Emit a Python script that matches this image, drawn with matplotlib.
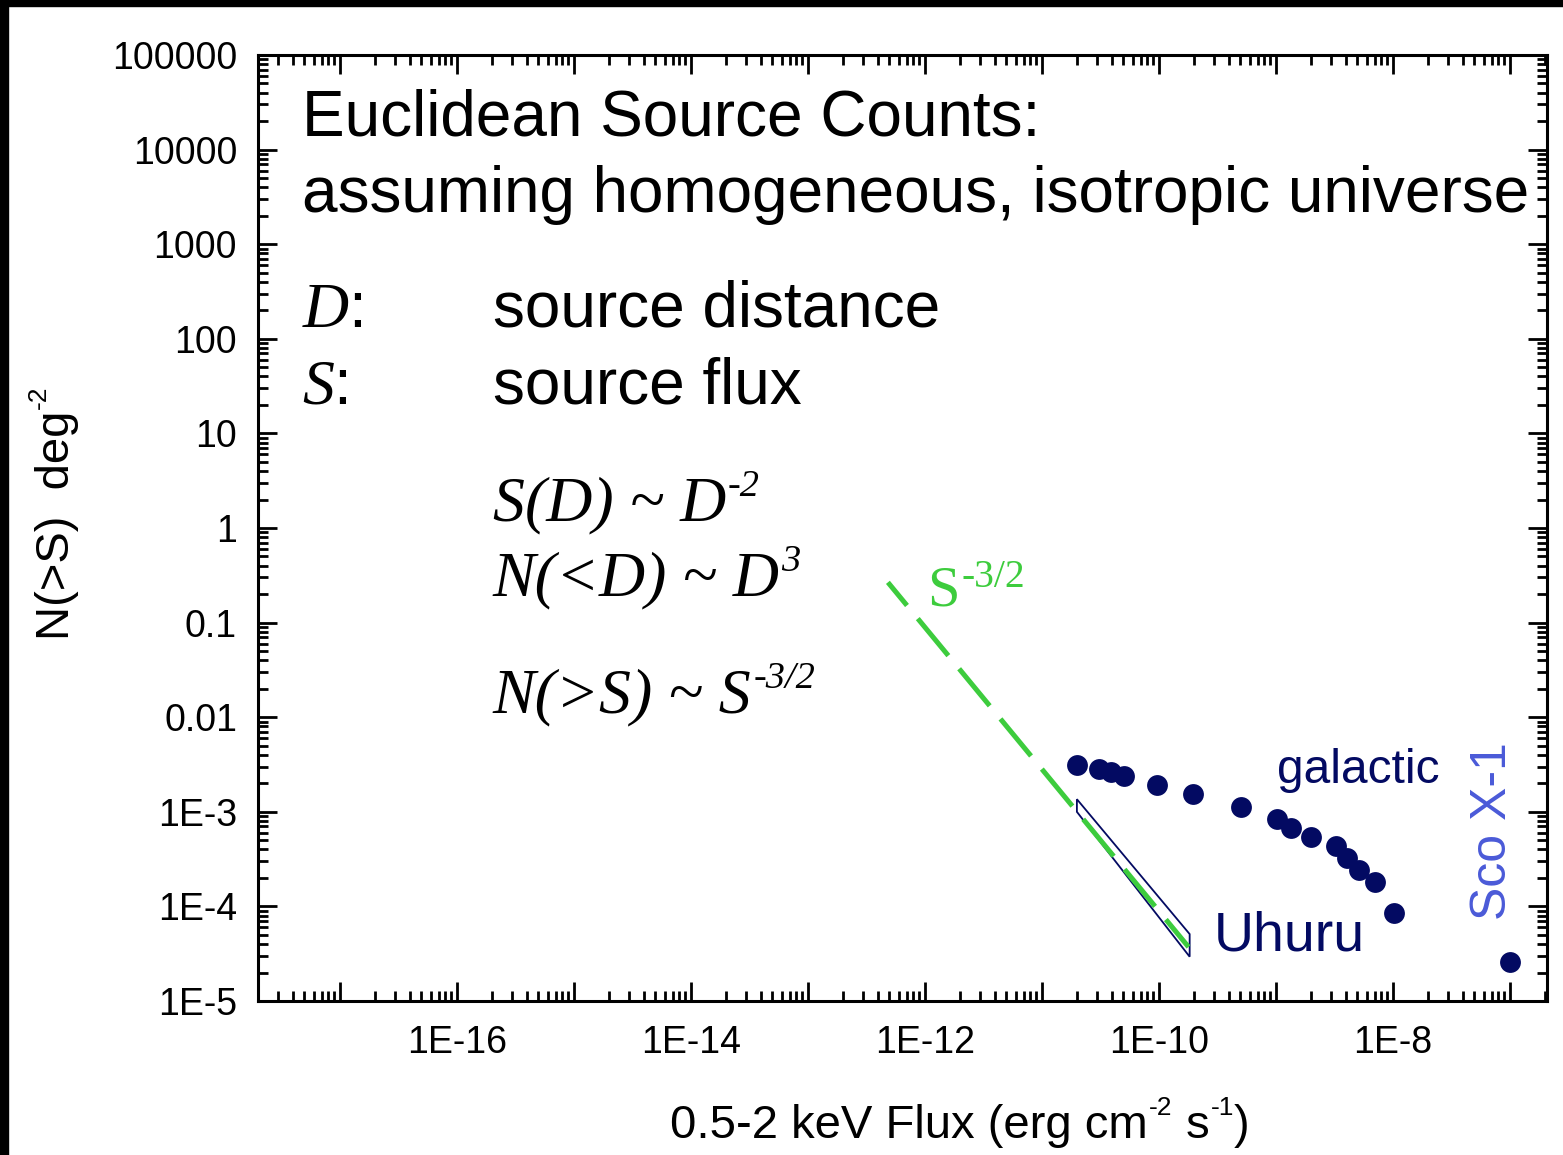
"""Euclidean source counts, log N - log S sketch (Uhuru era)."""
import matplotlib
import matplotlib.pyplot as plt
import matplotlib.ticker as ticker
from matplotlib.patches import Rectangle

matplotlib.use("Agg")

plt.rcParams["font.family"] = ["Liberation Sans", "DejaVu Sans"]
plt.rcParams["mathtext.fontset"] = "custom"
plt.rcParams["mathtext.rm"] = "Liberation Serif"
plt.rcParams["mathtext.it"] = "Liberation Serif:italic"
plt.rcParams["mathtext.sf"] = "Liberation Sans"

# galactic sources (flux in erg cm^-2 s^-1, N(>S) in deg^-2)
galactic_flux = [2e-11, 3.1e-11, 3.9e-11, 5.1e-11, 9.6e-11, 1.95e-10, 5.1e-10,
                 1.03e-9, 1.36e-9, 2.0e-9, 3.27e-9, 4.1e-9, 5.2e-9, 7.1e-9, 1.02e-8]
galactic_n = [3.1e-3, 2.81e-3, 2.62e-3, 2.41e-3, 1.94e-3, 1.54e-3, 1.13e-3,
              8.3e-4, 6.8e-4, 5.4e-4, 4.35e-4, 3.25e-4, 2.42e-4, 1.80e-4, 8.6e-5]
sco_flux = [1e-7]
sco_n = [2.58e-5]

# Uhuru extragalactic band
uhuru_flux = [2.0e-11, 1.84e-10]
uhuru_upper = [1.36e-3, 5.1e-5]
uhuru_lower = [1.0e-3, 2.94e-5]

# euclidean S^-3/2 reference line
euclid_flux = [4.85e-13, 1.8e-10]
euclid_norm = 9.0e-5  # N at S = 1e-10
euclid_n = [euclid_norm * (s / 1e-10) ** -1.5 for s in euclid_flux]

y_ticks = [1e5, 1e4, 1e3, 1e2, 1e1, 1, 0.1, 0.01, 1e-3, 1e-4, 1e-5]
y_tick_labels = ["100000", "10000", "1000", "100", "10", "1", "0.1", "0.01",
                 "1E-3", "1E-4", "1E-5"]
x_ticks = [1e-16, 1e-14, 1e-12, 1e-10, 1e-8]
x_tick_labels = ["1E-16", "1E-14", "1E-12", "1E-10", "1E-8"]

NAVY = "#030a62"
GREEN = "#3dcc3d"
SCO = "#4a5ad8"

fig = plt.figure(figsize=(15.63, 11.55), dpi=100)
fig.patch.set_facecolor("white")
ax = fig.add_axes([0.165, 0.1333, 0.8250, 0.8191])

ax.set_xscale("log")
ax.set_yscale("log")
ax.set_xlim(2e-18, 2.1e-7)
ax.set_ylim(1e-5, 1e5)

ax.fill(uhuru_flux + uhuru_flux[::-1], uhuru_upper + uhuru_lower[::-1],
        facecolor="none", edgecolor=NAVY, linewidth=1.3, zorder=2)
ax.plot(euclid_flux, euclid_n, color=GREEN, linewidth=3.6,
        linestyle=(3.6, (9.6, 3.4)), zorder=3)
ax.plot(galactic_flux, galactic_n, "o", color=NAVY, markersize=15,
        markeredgewidth=0, zorder=4)
ax.plot(sco_flux, sco_n, "o", color=NAVY, markersize=15,
        markeredgewidth=0, zorder=4)

# ticks: Origin style, inside on all four sides
ax.xaxis.set_major_locator(ticker.LogLocator(base=10, numticks=30))
ax.xaxis.set_minor_locator(ticker.LogLocator(base=10, subs=range(2, 10), numticks=30))
ax.yaxis.set_major_locator(ticker.FixedLocator(y_ticks))
ax.yaxis.set_minor_locator(ticker.LogLocator(base=10, subs=range(2, 10), numticks=30))
ax.yaxis.set_major_formatter(ticker.FixedFormatter(y_tick_labels))

x_label_map = dict(zip(x_ticks, x_tick_labels))


def _x_fmt(v, pos):
    for k, lab in x_label_map.items():
        if abs(v / k - 1) < 1e-6:
            return lab
    return ""


ax.xaxis.set_major_formatter(ticker.FuncFormatter(_x_fmt))
ax.xaxis.set_minor_formatter(ticker.NullFormatter())
ax.yaxis.set_minor_formatter(ticker.NullFormatter())

ax.tick_params(which="both", direction="in", top=True, right=True, width=2.0)
ax.tick_params(which="major", length=14, labelsize=27)
ax.tick_params(which="minor", length=7)
ax.tick_params(axis="y", which="major", pad=15)
ax.tick_params(axis="x", which="major", pad=17)
for spine in ax.spines.values():
    spine.set_linewidth(2.2)


def chain_text(x, y, pieces, size, transform, sup_scale=0.6, raise_frac=0.4, **kw):
    """Write base/superscript pieces one after another (plain hyphens, no mathtext)."""
    sup_size = size * sup_scale
    dy = 0.21 * (size - sup_size) + raise_frac * size
    first = ax.text(x, y, pieces[0][0], transform=transform, fontsize=size,
                    va="baseline", **kw)
    prev, base = first, first
    for txt, is_sup in pieces[1:]:
        if is_sup:
            prev = ax.annotate(txt, xy=(1, 0), xycoords=(prev, base),
                               xytext=(1, dy), textcoords="offset points",
                               fontsize=sup_size, va="bottom", ha="left", **kw)
        else:
            prev = ax.annotate(txt, xy=(1, 0), xycoords=(prev, base),
                               xytext=(0, 0), textcoords="offset points",
                               fontsize=size, va="bottom", ha="left", **kw)
            base = prev
    return first


# annotation text
big = 46
ta = ax.transAxes
ax.text(0.0341, 0.9144, "Euclidean Source Counts:", transform=ta, fontsize=big,
        va="baseline")
ax.text(0.0341, 0.834, "assuming homogeneous, isotropic universe", transform=ta,
        fontsize=big, va="baseline")
ax.text(0.0341, 0.7125, "$D$:", transform=ta, fontsize=big, va="baseline")
ax.text(0.1823, 0.7125, "source distance", transform=ta, fontsize=big, va="baseline")
ax.text(0.0341, 0.6321, "$S$:", transform=ta, fontsize=big, va="baseline")
ax.text(0.1823, 0.6321, "source flux", transform=ta, fontsize=big, va="baseline")

serif_it = dict(family="Liberation Serif", style="italic")
chain_text(0.1823, 0.5085, [("S(D) ~ D", False), ("-2", True)], 46, ta,
           raise_frac=0.38, **serif_it)
chain_text(0.1823, 0.4292, [("N(<D) ~ D", False), ("3", True)], 46, ta,
           raise_frac=0.38, **serif_it)
chain_text(0.1823, 0.3055, [("N(>S) ~ S", False), ("-3/2", True)], 46, ta,
           raise_frac=0.38, **serif_it)

chain_text(0.519, 0.4186, [("S", False), ("-3/2", True)], 42, ta,
           sup_scale=0.68, raise_frac=0.3, family="Liberation Serif", color=GREEN)

ax.text(0.7905, 0.2304, "galactic", transform=ta, fontsize=34.5,
        color=NAVY, va="baseline")
ax.text(0.7409, 0.0539, "Uhuru", transform=ta, fontsize=40,
        color=NAVY, va="baseline")
ax.text(0.9581, 0.1797, "Sco X-1", transform=ta, fontsize=36,
        color=SCO, rotation=90, ha="center", va="center")

# axis titles
lab = 34
lab_sup = lab * 0.56
chain_text(670 / 1563, 1 - 1138 / 1155,
           [("0.5-2 keV Flux (erg cm", False), ("-2", True), (" s", False),
            ("-1", True), (")", False)],
           lab, fig.transFigure, sup_scale=0.56, raise_frac=0.5)

ylab = fig.text(57 / 1563, 1 - 640 / 1155, "N(>S)  deg", rotation=90,
                fontsize=lab, ha="center", va="bottom")
ax.annotate("-2", xy=(1, 1), xycoords=ylab,
            xytext=(-(0.21 * (lab - lab_sup) + 0.5 * lab), 1),
            textcoords="offset points", rotation=90, fontsize=lab_sup,
            ha="right", va="bottom")

# black frame strips along the left and top edges
fig.patches.append(Rectangle((0, 0), 8 / 1563, 1, transform=fig.transFigure,
                             color="black", zorder=10))
fig.patches.append(Rectangle((0, 1 - 6 / 1155), 1, 6 / 1155, transform=fig.transFigure,
                             color="black", zorder=10))

fig.savefig("out.png", dpi=100, facecolor="white")
plt.close(fig)
